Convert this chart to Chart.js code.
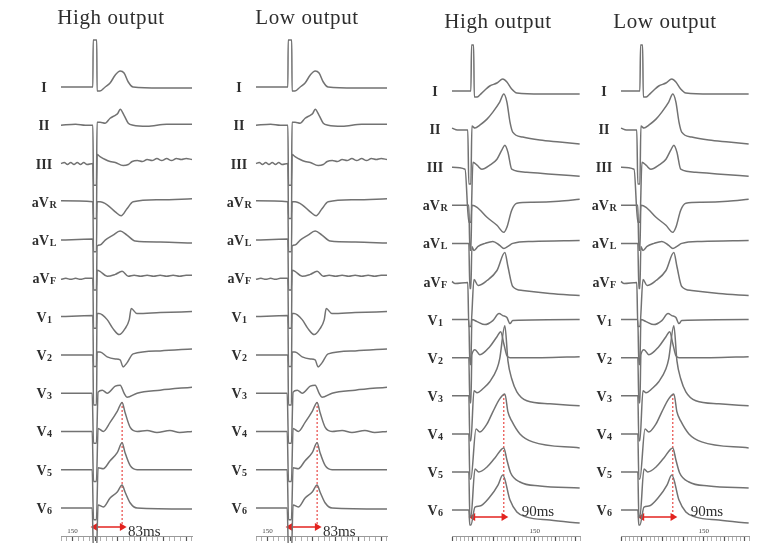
<!DOCTYPE html>
<html>
<head>
<meta charset="utf-8">
<script src="https://cdn.jsdelivr.net/npm/chart.js@4.4.1/dist/chart.umd.min.js"></script>
<style>
  html, body { margin: 0; padding: 0; background: #fff; }
  #wrap { position: relative; width: 770px; height: 543px; overflow: hidden; }
  #wrap canvas { position: absolute; top: 0; }
</style>
</head>
<body>
<div id="wrap">
  <canvas id="hi83" width="200" height="543" style="left:0px"></canvas>
  <canvas id="lo83" width="200" height="543" style="left:195px"></canvas>
  <canvas id="hi90" width="195" height="543" style="left:390px"></canvas>
  <canvas id="lo90" width="200" height="543" style="left:560px"></canvas>
</div>
<script>
// lead names, split into the big part and the small part of the label
const leadMain = ['I', 'II', 'III', 'aV', 'aV', 'aV', 'V', 'V', 'V', 'V', 'V', 'V'];
const leadSub  = ['', '', '', 'R', 'L', 'F', '1', '2', '3', '4', '5', '6'];

// traces, [time ms from pacing spike, amplitude] (83 ms)
const p83_I   = [[-105,0],[-7,0],[-6,47],[5,47],[6,-4],[15,-4],[31,0],[46,4],[62,12],[77,16],[89,14],[102,5],[117,0],[200,-1],[298,-1]];
const p83_II  = [[-105,0],[-60,1],[-30,0],[-7,0],[-5,-60],[4,-60],[6,3],[15,3],[31,2],[46,7],[62,10],[70,12],[77,16],[89,10],[102,2],[117,0],[160,-1],[220,1],[298,1]];
const p83_III = [[-105,0],[-95,1],[-85,-1],[-75,1],[-65,-1],[-55,1],[-45,-1],[-35,1],[-25,-1],[-7,0],[-5,-55],[4,-55],[6,9],[15,7],[31,4],[46,2],[62,1],[86,-2],[102,-1],[114,2],[130,3],[145,2],[160,4],[175,3],[190,5],[205,3],[220,5],[235,3],[250,5],[265,4],[280,5],[298,4]];
const p83_aVR = [[-105,1],[-7,0],[-5,-50],[4,-50],[6,0],[15,0],[37,-3],[62,-10],[80,-14],[98,-7],[117,0],[200,2],[298,3]];
const p83_aVL = [[-105,0],[-7,1],[-5,-50],[4,-50],[6,-6],[15,-5],[31,0],[55,5],[77,9],[98,5],[123,-1],[200,-2],[298,-3]];
const p83_aVF = [[-105,-1],[-90,0],[-75,-1],[-60,0],[-45,-1],[-30,0],[-7,0],[-5,-50],[4,-50],[6,8],[15,7],[37,2],[62,4],[83,7],[102,2],[120,3],[140,2],[160,3],[180,2],[200,3],[220,2],[240,3],[260,2],[280,3],[298,3]];
const p83_V1  = [[-105,0],[-7,1],[-5,-50],[4,-50],[6,3],[12,3],[37,-3],[55,-12],[74,-18],[92,-12],[105,-3],[111,8],[129,3],[200,4],[298,5]];
const p83_V2  = [[-105,0],[-7,0],[-5,-50],[4,-50],[6,3],[15,3],[37,-2],[62,-4],[77,-5],[86,-12],[98,-8],[117,1],[200,4],[298,6]];
const p83_V3  = [[-105,0],[-9,0],[-5,-50],[4,-50],[9,1],[22,3],[37,0],[62,7],[77,8],[89,0],[98,-4],[129,0],[200,3],[298,6]];
const p83_V4  = [[-105,0],[-9,0],[-5,-50],[4,-50],[9,3],[25,0],[46,9],[68,20],[83,29],[92,19],[108,4],[129,0],[160,1],[190,-1],[230,1],[260,-1],[298,0]];
const p83_V5  = [[-105,0],[-9,0],[-5,-50],[4,-50],[9,2],[25,1],[46,9],[68,17],[83,27],[92,17],[108,4],[129,0],[298,0]];
const p83_V6  = [[-105,0],[-9,0],[-5,-45],[4,-45],[9,3],[25,1],[46,10],[68,16],[83,23],[92,16],[108,5],[129,0],[298,-1]];

// traces (90 ms)
const p90_I   = [[-61,0],[-6,0],[-4,46],[2,46],[4,-6],[12,-6],[20,-4],[35,1],[49,5],[70,8],[87,12],[99,9],[113,2],[128,-2],[200,-3],[311,-3]];
const p90_II  = [[-61,1],[-45,-1],[-15,-1],[-12,-55],[-6,-55],[-3,3],[6,1],[20,4],[41,10],[58,17],[78,27],[90,35],[99,27],[108,7],[116,-3],[145,-8],[195,-11],[253,-13],[311,-15]];
const p90_III = [[-61,0],[-23,-2],[-12,-55],[-6,-55],[0,5],[12,2],[26,-2],[49,2],[70,8],[84,17],[93,22],[102,15],[113,-2],[157,-5],[230,-7],[311,-9]];
const p90_aVR = [[-61,0],[-12,0],[-9,-45],[-6,-45],[-3,0],[12,-2],[41,-12],[70,-20],[90,-27],[99,-22],[113,-5],[128,2],[174,3],[250,4],[311,6]];
const p90_aVL = [[-61,0],[-12,0],[-9,-45],[-6,-45],[-3,-3],[3,-7],[15,-3],[35,0],[58,2],[78,-2],[90,-5],[102,-3],[116,0],[174,2],[311,3]];
const p90_aVF = [[-61,0],[-52,-2],[-15,-1],[-12,-45],[-6,-45],[3,2],[15,-4],[41,1],[70,11],[93,29],[102,15],[116,-5],[145,-9],[224,-12],[311,-14]];
const p90_V1  = [[-61,0],[-12,0],[-9,-45],[-6,-45],[-3,0],[12,-2],[35,-5],[58,-1],[76,6],[87,4],[99,2],[108,-4],[116,-1],[311,0]];
const p90_V2  = [[-61,0],[-12,0],[-9,-45],[-6,-45],[-3,3],[6,8],[20,3],[49,11],[70,21],[81,26],[90,14],[99,2],[108,0],[200,0],[311,1]];
const p90_V3  = [[-61,0],[-12,0],[-9,-45],[-6,-45],[3,5],[12,3],[29,7],[49,14],[70,27],[78,37],[93,70],[102,35],[113,17],[128,4],[157,-5],[224,-8],[311,-10]];
const p90_V4  = [[-61,0],[-12,0],[-9,-45],[-6,-45],[9,5],[20,2],[41,10],[58,22],[78,35],[93,40],[102,22],[113,13],[137,0],[174,-8],[311,-14]];
const p90_V5  = [[-61,0],[-12,0],[-9,-45],[-6,-45],[6,3],[17,0],[41,5],[64,14],[90,24],[99,12],[110,-1],[137,-10],[195,-14],[311,-16]];
const p90_V6  = [[-61,0],[-12,0],[-9,-15],[-6,-15],[6,3],[20,4],[49,13],[73,25],[87,35],[108,10],[128,-2],[157,-7],[224,-10],[311,-13]];

const traces83 = [p83_I, p83_II, p83_III, p83_aVR, p83_aVL, p83_aVF, p83_V1, p83_V2, p83_V3, p83_V4, p83_V5, p83_V6];
const traces90 = [p90_I, p90_II, p90_III, p90_aVR, p90_aVL, p90_aVF, p90_V1, p90_V2, p90_V3, p90_V4, p90_V5, p90_V6];

// pacing spike to V4 peak intervals
const delayMs = [83, 90];

const RED = '#e3231f';
const SERIF = '"Liberation Serif", "Times New Roman", serif';

// titles, lead labels and the ms note
const ecgText = {
  id: 'ecgText',
  afterDatasetsDraw(chart, args, o) {
    const { ctx, chartArea, scales: { x, y } } = chart;
    ctx.save();
    ctx.fillStyle = '#2e2e2e';
    ctx.textAlign = 'center';
    ctx.textBaseline = 'alphabetic';
    ctx.font = '21px ' + SERIF;
    ctx.letterSpacing = '0.6px';
    ctx.fillText(o.title, o.titleX, o.titleY);
    ctx.letterSpacing = '0px';

    ctx.textAlign = 'left';
    leadMain.forEach((m, k) => {
      const py = y.getPixelForValue(-k * o.spacing) + 5;
      ctx.font = 'bold 14px ' + SERIF;
      const w1 = ctx.measureText(m).width;
      ctx.font = 'bold 10px ' + SERIF;
      const w2 = leadSub[k] ? ctx.measureText(leadSub[k]).width : 0;
      const x0 = chartArea.left - 17 - (w1 + w2) / 2;
      ctx.font = 'bold 14px ' + SERIF;
      ctx.fillText(m, x0, py);
      if (leadSub[k]) {
        ctx.font = 'bold 10px ' + SERIF;
        ctx.fillText(leadSub[k], x0 + w1 + 0.5, py + 1);
      }
    });

    ctx.font = '15px ' + SERIF;
    ctx.textBaseline = 'middle';
    ctx.fillText(o.delay + 'ms', x.getPixelForValue(o.textAt), y.getPixelForValue(o.textY));
    ctx.restore();
  }
};

function makePanel(id, p) {
  const sets = p.traces.map((tr, k) => ({
    data: tr.map(d => ({ x: d[0], y: d[1] - k * p.spacing })),
    borderColor: '#727272',
    borderWidth: 1.5,
    pointRadius: 0,
    cubicInterpolationMode: 'monotone',
    clip: false
  }));
  // red dotted line from the V4 peak down to the arrow
  sets.push({
    data: [{ x: p.delay, y: p.peakY }, { x: p.delay, y: p.arrowY }],
    borderColor: RED, borderWidth: 1, borderDash: [2, 2],
    pointRadius: 0, tension: 0
  });
  // double headed arrow
  sets.push({
    data: [{ x: 0, y: p.arrowY }, { x: p.delay, y: p.arrowY }],
    borderColor: RED, backgroundColor: RED, borderWidth: 1.5,
    pointStyle: 'triangle', pointRadius: 4.5, pointRotation: [270, 90],
    pointBorderWidth: 0, tension: 0
  });

  return new Chart(document.getElementById(id), {
    type: 'line',
    data: { datasets: sets },
    options: {
      responsive: false,
      animation: false,
      layout: { autoPadding: false, padding: { left: p.padLeft, right: p.padRight, top: 0, bottom: 0 } },
      plugins: {
        legend: { display: false },
        tooltip: { enabled: false },
        ecgText: {
          title: p.title, titleX: p.titleX, titleY: p.titleY,
          spacing: p.spacing, delay: p.delay, textAt: p.textAt, textY: p.textY
        }
      },
      scales: {
        x: {
          type: 'linear', min: p.xMin, max: p.xMax,
          border: { display: true, color: '#9a9a9a', width: 1 },
          grid: {
            drawOnChartArea: false, tickLength: 5,
            tickColor: c => (Math.abs(c.tick.value % p.major) < 0.01 ? '#555' : '#999'),
            tickWidth: c => (Math.abs(c.tick.value % p.major) < 0.01 ? 1.2 : 0.8)
          },
          ticks: {
            stepSize: p.step, includeBounds: false, autoSkip: false, maxRotation: 0,
            mirror: true, padding: 1, color: '#444',
            font: { size: 7, family: 'Liberation Serif' },
            callback: v => (Math.abs(v - p.labelAt) < 0.5 ? '150' : '')
          }
        },
        y: { display: false, min: p.yMin, max: p.yMax }
      }
    },
    plugins: [ecgText]
  });
}

const left = {
  traces: traces83, delay: delayMs[0], spacing: 38.27,
  xMin: -105, xMax: 298, yMin: -449, yMax: 87,
  padLeft: 61, padRight: 8, titleY: 24,
  peakY: -315, arrowY: -440, textAt: 101, textY: -445,
  step: 17.5, major: 70, labelAt: -70
};
const right = {
  traces: traces90, delay: delayMs[1], spacing: 38.1,
  xMin: -61, xMax: 312, yMin: -445, yMax: 91,
  titleY: 28,
  peakY: -303, arrowY: -426, textAt: 142, textY: -421,
  step: 12, major: 60, labelAt: 180
};

makePanel('hi83', Object.assign({}, left, { title: 'High output', titleX: 111 }));
makePanel('lo83', Object.assign({}, left, { title: 'Low output', titleX: 112 }));
makePanel('hi90', Object.assign({}, right, { title: 'High output', titleX: 108, padLeft: 62, padRight: 5 }));
makePanel('lo90', Object.assign({}, right, { title: 'Low output', titleX: 105, padLeft: 61, padRight: 11 }));
</script>
</body>
</html>
